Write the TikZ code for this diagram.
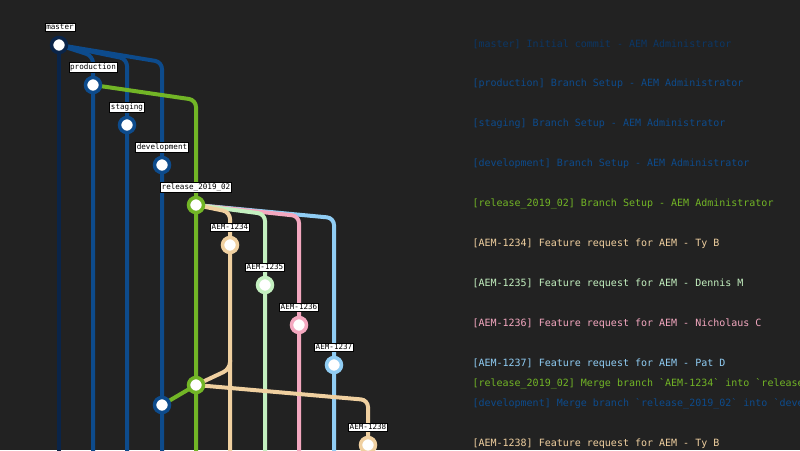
\documentclass[tikz,border=0pt]{standalone}
\usepackage{fontspec}
\setmonofont{DejaVu Sans Mono}
\begin{document}
\begin{tikzpicture}[x=1pt,y=-1pt,
  ln/.style={line width=4pt,rounded corners=7pt},
  cm/.style={circle,draw=#1,line width=3.5pt,fill=white,minimum size=15pt,inner sep=0pt},
  lab/.style={fill=white,draw=black,line width=0.7pt,inner sep=1.2pt,font=\ttfamily\fontsize{7.6}{8}\selectfont,text=black},
  msg/.style={anchor=west,font=\ttfamily\fontsize{10}{12}\selectfont,text=#1}]
\definecolor{bg}{HTML}{222222}
\definecolor{cMa}{HTML}{0A2448}
\definecolor{cBl}{HTML}{0D4B8C}
\definecolor{cGr}{HTML}{72B526}
\definecolor{cA}{HTML}{F0D0A0}
\definecolor{cB}{HTML}{C4F0C0}
\definecolor{cC}{HTML}{F4A8C0}
\definecolor{cD}{HTML}{90CDF4}
\definecolor{tMa}{HTML}{0B3766}
\useasboundingbox (0,0) rectangle (800,450);
\clip (0,0) rectangle (800,450);
\fill[bg] (0,0) rectangle (800,450);
\coordinate (m) at (59,45);
\coordinate (p) at (93,85);
\coordinate (s) at (127,125);
\coordinate (d) at (162,165);
\coordinate (r) at (196,205);
\coordinate (a1) at (230,245);
\coordinate (a2) at (265,285);
\coordinate (a3) at (299,325);
\coordinate (a4) at (334,365);
\coordinate (rm) at (196,385);
\coordinate (dm) at (162,405);
\coordinate (a5) at (368,445);
\draw[ln,cMa] (m) -- (59,460);
\draw[ln,cBl] (m) -- (93,56) -- (93,460);
\draw[ln,cBl] (m) -- (127,59) -- (127,460);
\draw[ln,cBl] (m) -- (162,62) -- (162,460);
\draw[ln,cGr] (p) -- (196,100) -- (196,460);
\draw[ln,cD] (r) -- (334,218) -- (334,460);
\draw[ln,cC] (r) -- (299,216) -- (299,460);
\draw[ln,cB] (r) -- (265,214) -- (265,460);
\draw[ln,cA] (r) -- (230,212) -- (230,460);
\draw[ln,cA] (rm) -- (230,369) -- (230,360);
\draw[ln,cA] (rm) -- (368,400) -- (a5);
\draw[ln,cGr] (rm) -- (dm);
\node[cm=cMa] (nm) at (m) {};
\node[cm=cBl] (np) at (p) {};
\node[cm=cBl] (ns) at (s) {};
\node[cm=cBl] (nd) at (d) {};
\node[cm=cGr] (nr) at (r) {};
\node[cm=cA] (na1) at (a1) {};
\node[cm=cB] (na2) at (a2) {};
\node[cm=cC] (na3) at (a3) {};
\node[cm=cD] (na4) at (a4) {};
\node[cm=cGr] (nrm) at (rm) {};
\node[cm=cBl] (ndm) at (dm) {};
\node[cm=cA] (na5) at (a5) {};
\node[lab] (lm) at (60,27) {master};
\node[lab] (lp) at (93,67) {production};
\node[lab] (ls) at (127,107) {staging};
\node[lab] (ld) at (162,147) {development};
\node[lab] (lr) at (196,187) {release\_2019\_02};
\node[lab] (l1) at (230,227) {AEM-1234};
\node[lab] (l2) at (265,267) {AEM-1235};
\node[lab] (l3) at (299,307) {AEM-1236};
\node[lab] (l4) at (334,347) {AEM-1237};
\node[lab] (l5) at (368,427) {AEM-1238};
\node[msg=tMa] (t1) at (469,44) {[master] Initial commit - AEM Administrator};
\node[msg=cBl] (t2) at (469,84) {[production] Branch Setup - AEM Administrator};
\node[msg=cBl] (t3) at (469,124) {[staging] Branch Setup - AEM Administrator};
\node[msg=cBl] (t4) at (469,164) {[development] Branch Setup - AEM Administrator};
\node[msg=cGr] (t5) at (469,204) {[release\_2019\_02] Branch Setup - AEM Administrator};
\node[msg=cA] (t6) at (469,244) {[AEM-1234] Feature request for AEM - Ty B};
\node[msg=cB] (t7) at (469,284) {[AEM-1235] Feature request for AEM - Dennis M};
\node[msg=cC] (t8) at (469,324) {[AEM-1236] Feature request for AEM - Nicholaus C};
\node[msg=cD] (t9) at (469,364) {[AEM-1237] Feature request for AEM - Pat D};
\node[msg=cGr] (t10) at (469,384) {[release\_2019\_02] Merge branch `AEM-1234` into `release\_2019\_02`};
\node[msg=cBl] (t11) at (469,404) {[development] Merge branch `release\_2019\_02` into `development`};
\node[msg=cA] (t12) at (469,444) {[AEM-1238] Feature request for AEM - Ty B};
\end{tikzpicture}
\end{document}
